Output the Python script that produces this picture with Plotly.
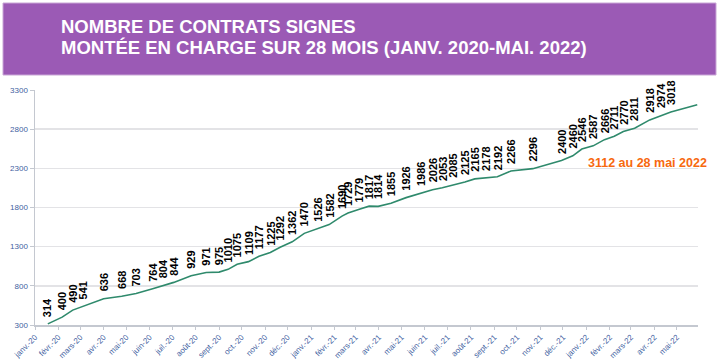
import plotly.graph_objects as go

# Dates of labelled points and cumulative contract counts
dates = [
    "2020-01-18", "2020-02-06", "2020-02-20", "2020-03-05", "2020-04-01", "2020-04-25",
    "2020-05-14", "2020-06-05", "2020-06-19", "2020-07-03", "2020-07-26", "2020-08-15",
    "2020-09-01", "2020-09-13", "2020-09-25", "2020-10-10", "2020-10-24", "2020-11-08",
    "2020-11-21", "2020-12-07", "2020-12-23", "2021-01-10", "2021-01-25", "2021-02-11",
    "2021-02-19", "2021-03-06", "2021-03-19", "2021-03-31", "2021-04-17", "2021-05-07",
    "2021-05-27", "2021-06-11", "2021-06-24", "2021-07-09", "2021-07-24", "2021-08-06",
    "2021-08-21", "2021-09-05", "2021-09-23", "2021-10-22", "2021-11-29", "2021-12-14",
    "2021-12-26", "2022-01-10", "2022-01-25", "2022-02-07", "2022-02-19", "2022-03-06",
    "2022-03-26", "2022-04-10", "2022-04-23",
]
values = [
    314, 400, 490, 541, 636, 668, 703, 764, 804, 844, 929, 971, 975, 1010, 1075, 1109,
    1177, 1225, 1292, 1362, 1470, 1526, 1582, 1690, 1729, 1779, 1817, 1814, 1855, 1926,
    1986, 2026, 2053, 2085, 2125, 2165, 2178, 2192, 2266, 2296, 2400, 2460, 2546, 2587,
    2666, 2711, 2770, 2811, 2918, 2974, 3018,
]
final_date = "2022-05-28"
final_value = 3112

# Month ticks
tick_dates = [f"{y}-{m:02d}-01" for y in (2020, 2021, 2022) for m in range(1, 13)][:29]
month_names = ["janv.", "févr.", "mars", "avr.", "mai", "juin", "juil.", "août",
               "sept.", "oct.", "nov.", "déc."]
tick_text = [f"{month_names[i % 12]}-{20 + i // 12}" for i in range(29)]

y_ticks = [300, 800, 1300, 1800, 2300, 2800, 3300]

title_line1 = "NOMBRE DE CONTRATS SIGNES"
title_line2 = "MONTÉE EN CHARGE SUR 28 MOIS (JANV. 2020-MAI. 2022)"
note_text = "3112 au 28 mai 2022"

LINE_COLOR = "#2f8a6c"
AXIS_TEXT = "#3f5f9f"
PURPLE = "#9b5ab5"
ORANGE = "#f7690f"
FONT = "Liberation Sans, Arial, sans-serif"

fig = go.Figure()
fig.add_trace(go.Scatter(
    x=dates + [final_date], y=values + [final_value],
    mode="lines", line=dict(color=LINE_COLOR, width=1.6),
    hoverinfo="skip", showlegend=False,
))

annotations = []
for d, v in zip(dates, values):
    annotations.append(dict(
        x=d, y=v, xref="x", yref="y", text=str(v), showarrow=False,
        textangle=-90, xanchor="center", yanchor="bottom", yshift=6,
        font=dict(family=FONT, size=11, color="#000000", weight="bold"),
        borderpad=0,
    ))

# Title banner text (paper coords relative to plot area)
plot_left, plot_right, plot_top, plot_bottom = 35, 698, 90, 325
pw = plot_right - plot_left
ph = plot_bottom - plot_top

def px_x(p):
    return (p - plot_left) / pw

def px_y(p):
    return (plot_bottom - p) / ph

annotations.append(dict(
    x=px_x(59), y=px_y(27), xref="paper", yref="paper", text=title_line1,
    showarrow=False, xanchor="left", yanchor="middle",
    font=dict(family=FONT, size=18.5, color="#ffffff", weight="bold"),
))
annotations.append(dict(
    x=px_x(59), y=px_y(48), xref="paper", yref="paper", text=title_line2,
    showarrow=False, xanchor="left", yanchor="middle",
    font=dict(family=FONT, size=18.5, color="#ffffff", weight="bold"),
))
annotations.append(dict(
    x=px_x(586), y=px_y(163), xref="paper", yref="paper", text=note_text,
    showarrow=False, xanchor="left", yanchor="middle",
    font=dict(family=FONT, size=12.5, color=ORANGE, weight="bold"),
))

shapes = [dict(
    type="rect", xref="paper", yref="paper",
    x0=px_x(3), x1=px_x(716), y0=px_y(75), y1=px_y(3),
    fillcolor=PURPLE, line=dict(color="#c9a6d6", width=1), layer="below",
)]

fig.update_layout(
    width=720, height=362,
    margin=dict(l=plot_left, r=720 - plot_right, t=plot_top, b=362 - plot_bottom),
    paper_bgcolor="#ffffff", plot_bgcolor="#ffffff",
    font=dict(family=FONT),
    annotations=annotations, shapes=shapes,
    xaxis=dict(
        type="date", range=["2020-01-01", "2022-05-29"],
        tickvals=tick_dates, ticktext=tick_text, tickangle=-45,
        tickfont=dict(family=FONT, size=8, color=AXIS_TEXT),
        showgrid=False, showline=True, linecolor="#c4c8d0", linewidth=1.5,
        ticks="outside", ticklen=3, tickcolor="#c4c8d0", zeroline=False,
        automargin=False,
    ),
    yaxis=dict(
        range=[300, 3300], tickvals=y_ticks,
        tickfont=dict(family=FONT, size=8, color=AXIS_TEXT),
        showgrid=True, gridcolor="#e3e3e6", gridwidth=1.5,
        showline=True, linecolor="#c4c8d0", linewidth=1.5,
        ticks="outside", ticklen=4, tickcolor="#c4c8d0", zeroline=False,
        automargin=False,
    ),
)

fig.write_html("out.html", config={"displayModeBar": False, "staticPlot": True})

# Remove the browser's default page margin so the figure sits at the top-left
with open("out.html", "r", encoding="utf-8") as f:
    html = f.read()
html = html.replace("<head>", "<head><style>html,body{margin:0;padding:0;overflow:hidden;}</style>", 1)
with open("out.html", "w", encoding="utf-8") as f:
    f.write(html)
